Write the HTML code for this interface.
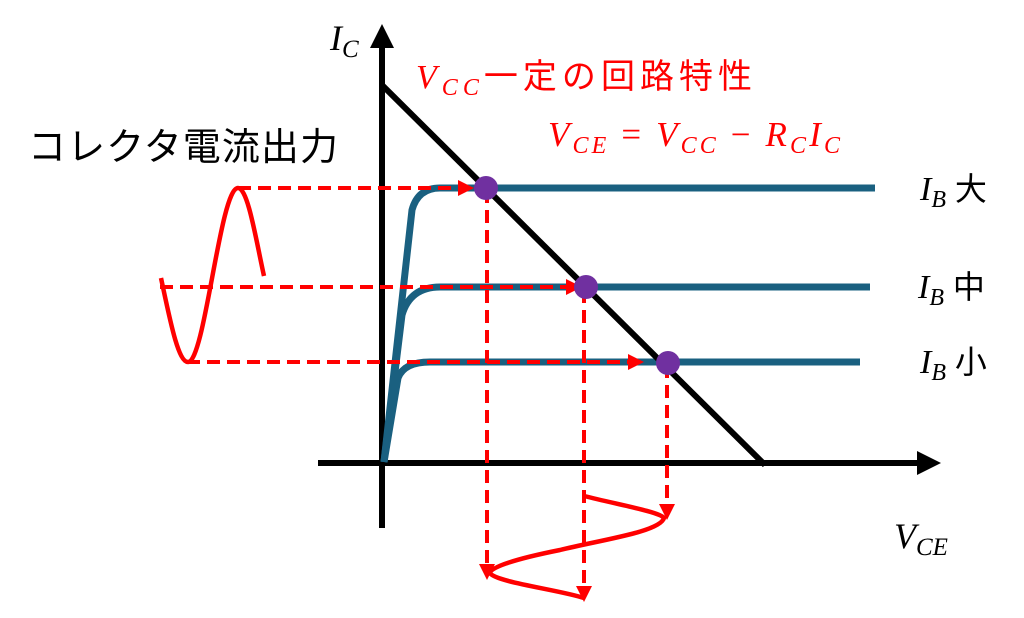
<!DOCTYPE html>
<html><head><meta charset="utf-8"><style>
body{margin:0;background:#fff;width:1024px;height:618px;overflow:hidden}
svg{display:block}
.t{font-family:"Liberation Serif","Noto Serif CJK SC",serif;font-style:italic}
.j{font-family:"Liberation Sans","Noto Sans CJK JP",sans-serif}
</style></head><body>
<svg width="1024" height="618" viewBox="0 0 1024 618">
<defs>
<marker id="ar" markerWidth="4" markerHeight="4" refX="3" refY="2" orient="auto" markerUnits="strokeWidth"><path d="M0,0 L4,2 L0,4z" fill="#f00"/></marker>
<marker id="ak" markerWidth="4" markerHeight="4" refX="3" refY="2" orient="auto" markerUnits="strokeWidth"><path d="M0,0 L4,2 L0,4z" fill="#000"/></marker>
</defs>
<line x1="382" y1="528" x2="382" y2="30" stroke="#000" stroke-width="6" marker-end="url(#ak)"/>
<line x1="318" y1="463" x2="935" y2="463" stroke="#000" stroke-width="6" marker-end="url(#ak)"/>
<g fill="none" stroke="#1a6080" stroke-width="7">
<path d="M384,462 L412,210 Q418,188 440,188 L875,188"/>
<path d="M384,462 L402,315 Q410,287 440,287 L870,287"/>
<path d="M384,462 L398,378 Q404,362 430,362 L860,362"/>
</g>
<line x1="382" y1="85" x2="765" y2="465" stroke="#000" stroke-width="6"/>
<g fill="none" stroke="#f00" stroke-width="4" stroke-dasharray="13,7">
<line x1="238" y1="188" x2="470" y2="188" marker-end="url(#ar)"/>
<line x1="160" y1="287" x2="578" y2="287" marker-end="url(#ar)"/>
<line x1="187" y1="362" x2="640" y2="362" marker-end="url(#ar)"/>
<line x1="487" y1="190" x2="487" y2="576" marker-end="url(#ar)"/>
<line x1="584" y1="290" x2="584" y2="598" marker-end="url(#ar)"/>
<line x1="667" y1="365" x2="667" y2="516" marker-end="url(#ar)"/>
</g>
<g fill="#7030a0">
<circle cx="486" cy="188" r="12"/><circle cx="586" cy="287" r="12"/><circle cx="668" cy="363" r="12"/>
</g>
<g fill="none" stroke="#f00" stroke-width="4.5">
<path d="M161,278 C170,320 178,362 188,362 C205,362 220,188 238,188 C248,188 256,240 264,276"/>
<path d="M584,496 C620,505 660,512 664,518 C660,532 600,540 560,550 C510,560 490,568 490,573 C495,582 560,590 584,598"/>
</g>
<text class="t" x="330" y="50" font-size="36">I<tspan font-size="25" dy="7">C</tspan></text>
<text class="t" x="416" y="88" font-size="34" fill="#f00" textLength="336">V<tspan font-size="24" dy="7">CC</tspan><tspan dy="-7" class="j" font-style="normal" font-size="34">一定の回路特性</tspan></text>
<text class="t" x="548" y="146" font-size="35" fill="#f00" textLength="292">V<tspan font-size="24" dy="7">CE</tspan><tspan dy="-7" font-style="normal"> = </tspan>V<tspan font-size="24" dy="7">CC</tspan><tspan dy="-7" font-style="normal"> − </tspan>R<tspan font-size="24" dy="7">C</tspan><tspan dy="-7">I</tspan><tspan font-size="24" dy="7">C</tspan></text>
<text class="j" x="28" y="160" font-size="38" textLength="310">コレクタ電流出力</text>
<text class="t" x="920" y="200" font-size="34">I<tspan font-size="24" dy="7">B</tspan><tspan dy="-7" class="j" font-style="normal" font-size="32"> 大</tspan></text>
<text class="t" x="918" y="298" font-size="34">I<tspan font-size="24" dy="7">B</tspan><tspan dy="-7" class="j" font-style="normal" font-size="32"> 中</tspan></text>
<text class="t" x="920" y="373" font-size="34">I<tspan font-size="24" dy="7">B</tspan><tspan dy="-7" class="j" font-style="normal" font-size="32"> 小</tspan></text>
<text class="t" x="894" y="548" font-size="36">V<tspan font-size="25" dy="7">CE</tspan></text>
</svg>
</body></html>
